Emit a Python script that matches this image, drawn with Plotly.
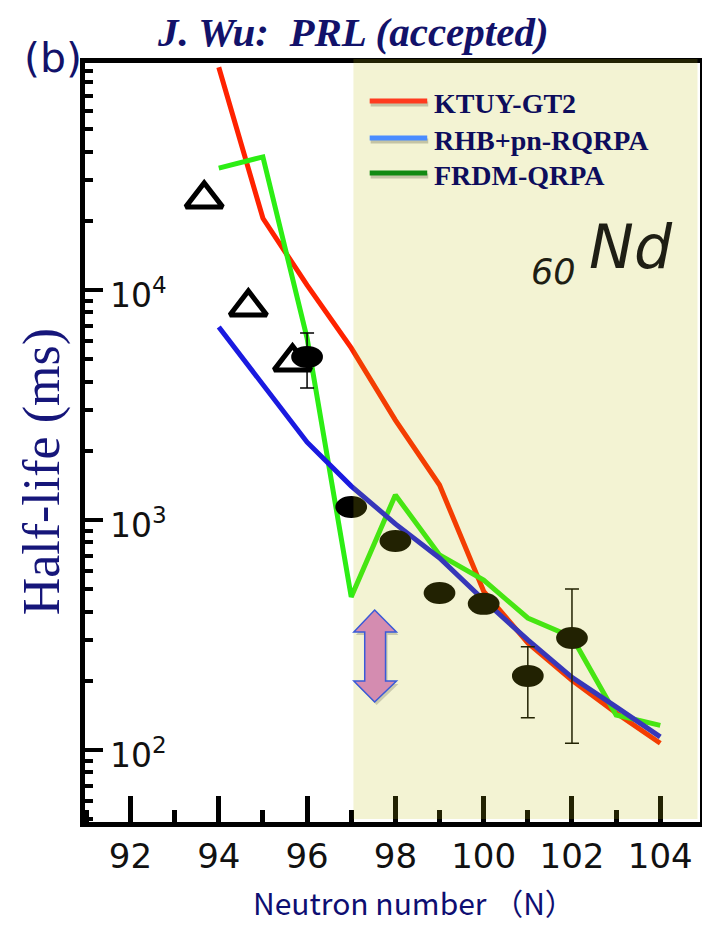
import plotly.graph_objects as go

# ---------------- data ----------------
neutron_number = [94, 95, 96, 97, 98, 99, 100, 101, 102, 103, 104]
ktuy_gt2 = [93000, 20500, 10500, 5600, 2720, 1420, 490, 292, 201, 145, 107]
rhb_pn_rqrpa = [6900, 3860, 2180, 1405, 962, 684, 449, 301, 207, 154, 114]
frdm_qrpa = [33900, 37900, 6180, 463, 1285, 705, 548, 375, 310, 142, 128]

exp_n = [96, 97, 98, 99, 100, 101, 102]
exp_halflife = [5120, 1140, 811, 482, 432, 210, 307]
exp_upper = [6500, None, None, None, None, 281, 501]
exp_lower = [3750, None, None, None, None, 138, 107]

prev_n = [93.67, 94.67, 95.67]
prev_halflife = [24900, 8440, 4870]

x_tick_values = [92, 94, 96, 98, 100, 102, 104]
y_label_decades = [2, 3, 4]
legend_names = ["KTUY-GT2", "RHB+pn-RQRPA", "FRDM-QRPA"]
shaded_from_n = 97.05

# ---------------- layout geometry / styles ----------------
OFF = 8                      # page body margin of the html page
W, H = 710 - OFF, 926 - OFF  # figure size
PL, PR, PT, PB = 85, 705, 63, 822   # plot area in page pixels
X_RANGE = [90.97, 104.9]
Y_RANGE = [1.687, 4.987]  # log10

PPX = (PR - PL) / (X_RANGE[1] - X_RANGE[0])   # px per neutron
PPD = (PB - PT) / (Y_RANGE[1] - Y_RANGE[0])   # px per decade


def px(xp):
    return (xp - PL) / (PR - PL)


def py(yp):
    return (PB - yp) / (PB - PT)


NAVY = "#12126a"
LINE_COLORS = ["#ff2200", "#1a1ae0", "#2cee14"]
LEGEND_COLORS = ["#ff3b1f", "#4a8cff", "#128a12"]

fig = go.Figure()

# model curves (draw order: red, green, blue)
fig.add_trace(go.Scatter(x=neutron_number, y=ktuy_gt2, mode="lines", name=legend_names[0],
                         line=dict(color=LINE_COLORS[0], width=5), showlegend=False))
fig.add_trace(go.Scatter(x=neutron_number, y=frdm_qrpa, mode="lines", name=legend_names[2],
                         line=dict(color=LINE_COLORS[2], width=5), showlegend=False))
fig.add_trace(go.Scatter(x=neutron_number, y=rhb_pn_rqrpa, mode="lines", name=legend_names[1],
                         line=dict(color=LINE_COLORS[1], width=5), showlegend=False))

# earlier data (open triangles)
fig.add_trace(go.Scatter(x=prev_n, y=prev_halflife, mode="markers", showlegend=False,
                         marker=dict(symbol="triangle-up-open", size=32, color="black",
                                     line=dict(width=5, color="black"))))

# experimental data with error bars
err_plus = [(u - v) if u is not None else 0 for u, v in zip(exp_upper, exp_halflife)]
err_minus = [(v - l) if l is not None else 0 for l, v in zip(exp_lower, exp_halflife)]
fig.add_trace(go.Scatter(x=exp_n, y=exp_halflife, mode="markers", showlegend=False,
                         marker=dict(symbol="circle", size=20, color="black"),
                         error_y=dict(type="data", symmetric=False, array=err_plus,
                                      arrayminus=err_minus, color="black",
                                      thickness=1.5, width=7)))

shapes = []
# elliptical markers around the data points (32 x 22 px)
for n, v in zip(exp_n, exp_halflife):
    shapes.append(dict(type="circle", xref="x", yref="y",
                       x0=n - 16 / PPX, x1=n + 16 / PPX,
                       y0=v * 10 ** (-11 / PPD), y1=v * 10 ** (11 / PPD),
                       fillcolor="black", line=dict(width=0), layer="above"))

# translucent beige region N >= 97
shapes.append(dict(type="rect", xref="x", yref="paper", x0=shaded_from_n,
                   x1=X_RANGE[1] - 2.5 / PPX,
                   y0=3 / (PB - PT), y1=1 + 4 / (PB - PT),
                   fillcolor="rgba(190,190,10,0.18)", line=dict(width=0), layer="above"))

# manual legend
legend_rows = [101, 138, 173]
for name, col, yr in zip(legend_names, LEGEND_COLORS, legend_rows):
    shapes.append(dict(type="line", xref="paper", yref="paper", x0=px(373), x1=px(431),
                       y0=py(yr + 3), y1=py(yr + 3), line=dict(color="rgba(90,90,60,0.30)", width=5),
                       layer="above"))
    shapes.append(dict(type="line", xref="paper", yref="paper", x0=px(372), x1=px(430),
                       y0=py(yr), y1=py(yr), line=dict(color=col, width=5), layer="above"))

# double-headed arrow
arrow_pts = [(377, 610), (399, 632), (388, 632), (388, 681), (399, 681), (377, 702),
             (356, 681), (367, 681), (367, 632), (356, 632)]


def arrow_path(dx=0, dy=0):
    return "M " + " L ".join(f"{px(a + dx):.5f},{py(b + dy):.5f}" for a, b in arrow_pts) + " Z"


shapes.append(dict(type="path", xref="paper", yref="paper", path=arrow_path(2, 3),
                   fillcolor="rgba(80,80,60,0.25)", line=dict(width=0), layer="above"))
shapes.append(dict(type="path", xref="paper", yref="paper", path=arrow_path(),
                   fillcolor="#d48cb0", line=dict(color="#3a5ad8", width=1.5), layer="above"))

annotations = [
    dict(text="<b><i>J. Wu:\u00a0 PRL (accepted)</i></b>", x=px(355), y=py(OFF), xref="paper",
         yref="paper", xanchor="center", yanchor="top", borderpad=0, showarrow=False,
         font=dict(family="Liberation Serif", size=41, color=NAVY)),
    dict(text="(b)", x=px(53), y=py(58), xref="paper", yref="paper", xanchor="center",
         yanchor="middle", showarrow=False,
         font=dict(family="DejaVu Sans", size=41, color=NAVY)),
    dict(text="Half-life (ms)", x=px(42), y=py(472), xref="paper", yref="paper",
         xanchor="center", yanchor="middle", textangle=-90, showarrow=False,
         font=dict(family="Liberation Serif", size=52, color="#16167a")),
    dict(text="Neutron number （N）", x=px(417), y=py(925), xref="paper", yref="paper",
         xanchor="center", yanchor="bottom", borderpad=0, showarrow=False,
         font=dict(family="Noto Sans CJK JP", size=30, color="#0e0e72")),
    dict(text="<i>Nd</i>", x=px(680), y=py(247), xref="paper", yref="paper", xanchor="right",
         yanchor="middle", showarrow=False,
         font=dict(family="DejaVu Sans", size=60, color="#1e1e14")),
    dict(text="<i>60</i>", x=px(582), y=py(272), xref="paper", yref="paper", xanchor="right",
         yanchor="middle", showarrow=False,
         font=dict(family="DejaVu Sans", size=35, color="#1e1e14")),
]
# y tick labels drawn inside the plot, next to each decade tick
for d in y_label_decades:
    annotations.append(dict(text=f"10<sup>{d}</sup>", x=px(108),
                            y=(d - Y_RANGE[0]) / (Y_RANGE[1] - Y_RANGE[0]),
                            xref="paper", yref="paper", xanchor="left", yanchor="middle",
                            yshift=-3, showarrow=False,
                            font=dict(family="DejaVu Sans", size=33, color="#111111")))
for name, yr in zip(legend_names, legend_rows):
    annotations.append(dict(text=f"<b>{name}</b>", x=px(435), y=py(yr + 2), xref="paper",
                            yref="paper", xanchor="left", yanchor="middle", showarrow=False,
                            font=dict(family="Liberation Serif", size=28, color="#0d0d5c")))

fig.update_layout(
    width=W, height=H,
    margin=dict(l=PL - OFF, r=W - (PR - OFF), t=PT - OFF, b=H - (PB - OFF), pad=0),
    paper_bgcolor="white", plot_bgcolor="white",
    showlegend=False,
    shapes=shapes, annotations=annotations,
    xaxis=dict(range=X_RANGE, tickmode="array", tickvals=x_tick_values,
               ticks="inside", ticklen=26, tickwidth=5, tickcolor="black",
               showline=True, linewidth=5, linecolor="black", mirror=True,
               showgrid=False, zeroline=False,
               tickfont=dict(family="DejaVu Sans", size=34, color="#111111"),
               minor=dict(dtick=1, tick0=91, ticks="inside", ticklen=12, tickwidth=5,
                          tickcolor="black", showgrid=False)),
    yaxis=dict(type="log", range=Y_RANGE, dtick=1, showticklabels=False,
               ticks="inside", ticklen=18, tickwidth=4, tickcolor="black",
               showline=True, linewidth=5, linecolor="black", mirror=True,
               showgrid=False, zeroline=False,
               minor=dict(dtick="D1", ticks="inside", ticklen=8, tickwidth=4,
                          tickcolor="black", showgrid=False)),
)

fig.write_html("out.html")
